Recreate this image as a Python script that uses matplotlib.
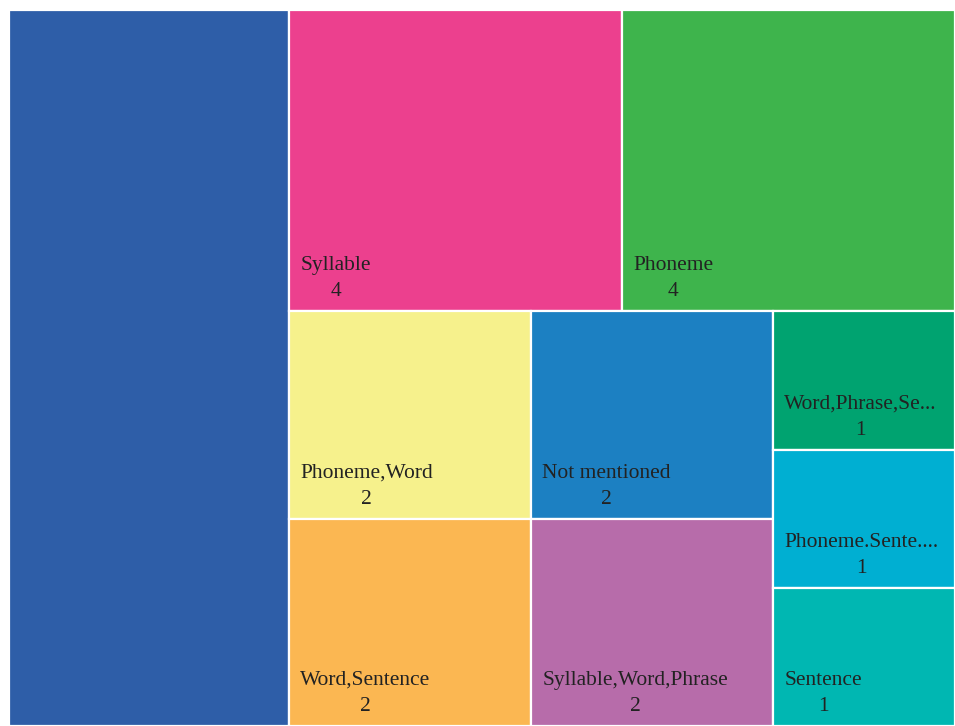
import matplotlib.pyplot as plt
from matplotlib.patches import Rectangle

# Treemap of counts per linguistic unit
labels = ["", "Syllable", "Phoneme", "Phoneme,Word", "Word,Sentence",
          "Not mentioned", "Syllable,Word,Phrase", "Word,Phrase,Se...",
          "Phoneme.Sente....", "Sentence"]
counts = [8, 4, 4, 2, 2, 2, 2, 1, 1, 1]
colors = ["#2E5EA8", "#EC408E", "#3EB44C", "#F6F18C", "#FBB752",
          "#1C80C2", "#B76CAA", "#00A370", "#00AFD2", "#00B7B2"]

# how many consecutive items go into each strip
strips = [1, 2, 2, 2, 1, 1, 1]

W, H = 946, 716


def strip_layout(values, strips, x, y, w, h):
    """Lay values out strip by strip; a strip runs along the shorter side."""
    rects = []
    remaining = float(sum(values))
    i = 0
    for n in strips:
        row = values[i:i + n]
        s = float(sum(row))
        if w >= h:
            sw = w * s / remaining
            yy = y
            for v in row:
                rh = h * v / s
                rects.append((x, yy, sw, rh))
                yy += rh
            x += sw
            w -= sw
        else:
            sh = h * s / remaining
            xx = x
            for v in row:
                rw = w * v / s
                rects.append((xx, y, rw, sh))
                xx += rw
            y += sh
            h -= sh
        remaining -= s
        i += n
    return rects


fig = plt.figure(figsize=(9.55, 7.26), dpi=100)
ax = fig.add_axes([9 / 955, 0, W / 955, H / 726])
ax.set_xlim(0, W)
ax.set_ylim(H, 0)
ax.axis('off')

rects = strip_layout(counts, strips, 0, 0, W, H)
for (x, y, w, h), lab, val, col in zip(rects, labels, counts, colors):
    ax.add_patch(Rectangle((x, y), w, h, facecolor=col, edgecolor='white',
                           linewidth=1.6))
    if lab:
        ax.text(x + 11, y + h - 15, f"{lab}\n{val}", ha='left', va='baseline',
                multialignment='center', fontsize=15.5, color='#222222',
                family='Liberation Serif', linespacing=1.5)

fig.savefig('out.png', dpi=100, facecolor='white')
